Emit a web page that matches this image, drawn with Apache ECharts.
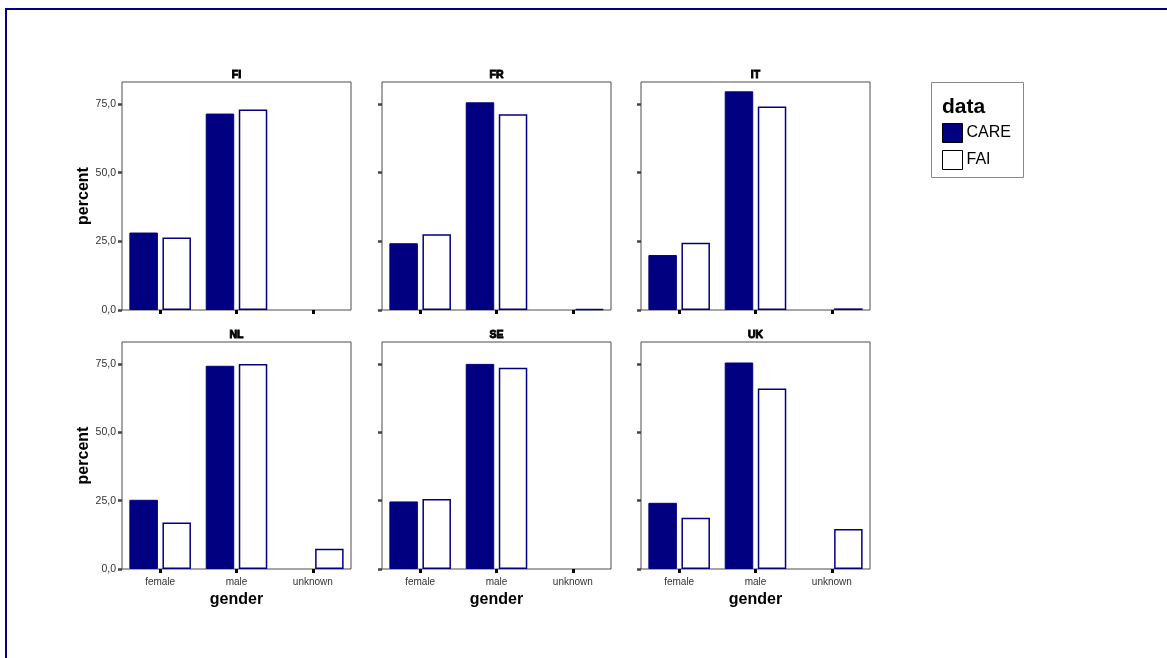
<!DOCTYPE html>
<html>
<head>
<meta charset="utf-8">
<script src="https://cdn.jsdelivr.net/npm/echarts@6/dist/echarts.min.js"></script>
<style>
html,body{margin:0;padding:0;background:#fff;}
#chart{width:1167px;height:658px;}
</style>
</head>
<body>
<div id="chart"></div>
<script>
// ---- data ----
const categories = ['female', 'male', 'unknown'];
const panels = ['FI', 'FR', 'IT', 'NL', 'SE', 'UK'];
const seriesNames = ['CARE', 'FAI'];
const yTicks = [0, 25, 50, 75];
const careFI = [28.2, 71.5, null];
const faiFI  = [26.4, 73.0, null];
const careFR = [24.3, 75.6, null];
const faiFR  = [27.6, 71.3, 0.3];
const careIT = [20.0, 79.6, null];
const faiIT  = [24.5, 74.1, 0.6];
const careNL = [25.3, 74.3, null];
const faiNL  = [17.0, 75.0, 7.4];
const careSE = [24.7, 75.0, null];
const faiSE  = [25.6, 73.6, null];
const careUK = [24.2, 75.5, null];
const faiUK  = [18.7, 66.0, 14.6];

const careData = [careFI, careFR, careIT, careNL, careSE, careUK];
const faiData  = [faiFI, faiFR, faiIT, faiNL, faiSE, faiUK];

// ---- layout ----
const NAVY = '#000080';
const FONT = 'Liberation Sans, Arial, sans-serif';
const colLeft = [122, 382, 641];
const rowTop = [82, 342];
const gw = 229, gh = 228;

const grids = [], xAxes = [], yAxes = [], series = [], graphics = [];
panels.forEach((p, i) => {
  const r = Math.floor(i / 3), c = i % 3;
  const bottomRow = r === 1, leftCol = c === 0;
  grids.push({
    left: colLeft[c], top: rowTop[r], width: gw, height: gh - (r === 1 ? 1 : 0),
    show: true, borderColor: '#4d4d4d', borderWidth: 1, backgroundColor: '#fff'
  });
  xAxes.push({
    type: 'category', gridIndex: i, data: categories,
    axisLine: { show: false },
    axisTick: { show: true, alignWithLabel: true, length: 4, lineStyle: { color: '#000', width: 3 } },
    axisLabel: { show: bottomRow, fontSize: 10, color: '#333', fontFamily: FONT, margin: 8 },
    name: bottomRow ? 'gender' : '', nameLocation: 'middle', nameGap: 23,
    nameTextStyle: { fontSize: 16, fontWeight: 'bold', color: '#000', fontFamily: FONT }
  });
  yAxes.push({
    type: 'value', gridIndex: i, min: 0, max: 83, interval: 25,
    splitLine: { show: false },
    axisLine: { show: false },
    axisTick: { show: true, length: 4, customValues: yTicks, lineStyle: { color: '#444', width: 2.5 } },
    axisLabel: { show: leftCol, customValues: yTicks, fontSize: 10.5, color: '#333', fontFamily: FONT, margin: 6,
      formatter: v => v.toFixed(1).replace('.', ',') },
    name: leftCol ? 'percent' : '', nameLocation: 'middle', nameGap: 30,
    nameTextStyle: { fontSize: 16, fontWeight: 'bold', color: '#000', fontFamily: FONT }
  });
  series.push({
    name: 'CARE', type: 'bar', xAxisIndex: i, yAxisIndex: i, data: careData[i],
    barWidth: 28.5, barGap: '16%',
    itemStyle: { color: NAVY, borderColor: NAVY, borderWidth: 1 }
  });
  series.push({
    name: 'FAI', type: 'bar', xAxisIndex: i, yAxisIndex: i, data: faiData[i],
    barWidth: 28.5, barGap: '16%',
    itemStyle: { color: '#fff', borderColor: NAVY, borderWidth: 1.5 }
  });
  graphics.push({
    type: 'text', x: colLeft[c] + gw / 2, y: rowTop[r] - 7,
    style: { text: p, font: '900 10.5px ' + FONT, fill: '#000',
      textAlign: 'center', textVerticalAlign: 'middle', stroke: '#000', lineWidth: 0.9 }
  });
});

// outer frame (left & top visible)
graphics.push({ type: 'rect', shape: { x: 6, y: 9, width: 1400, height: 900 },
  style: { fill: 'none', stroke: NAVY, lineWidth: 2 }, z: 100 });
// legend box & title
graphics.push({ type: 'rect', shape: { x: 931.5, y: 82.5, width: 92, height: 95 },
  style: { fill: '#fff', stroke: '#888', lineWidth: 1 }, z: 0 });
graphics.push({ type: 'text', x: 942, y: 107,
  style: { text: 'data', font: 'bold 21px ' + FONT, fill: '#000', textVerticalAlign: 'middle' }, z: 10 });

const option = {
  animation: false,
  backgroundColor: '#fff',
  grid: grids, xAxis: xAxes, yAxis: yAxes, series: series,
  graphic: graphics,
  legend: {
    orient: 'vertical', left: 942, top: 123, padding: 0,
    itemWidth: 20, itemHeight: 19, itemGap: 7, icon: 'rect',
    data: [
      { name: 'CARE', icon: 'rect', itemStyle: { color: NAVY, borderColor: '#000', borderWidth: 1 } },
      { name: 'FAI', icon: 'rect', itemStyle: { color: '#fff', borderColor: '#000', borderWidth: 1 } }
    ],
    textStyle: { fontSize: 16, color: '#000', fontFamily: FONT, padding: [0, 0, 0, -1] },
    selectedMode: false, z: 20
  }
};
const chart = echarts.init(document.getElementById('chart'), null, { renderer: 'canvas' });
chart.setOption(option);
</script>
</body>
</html>
